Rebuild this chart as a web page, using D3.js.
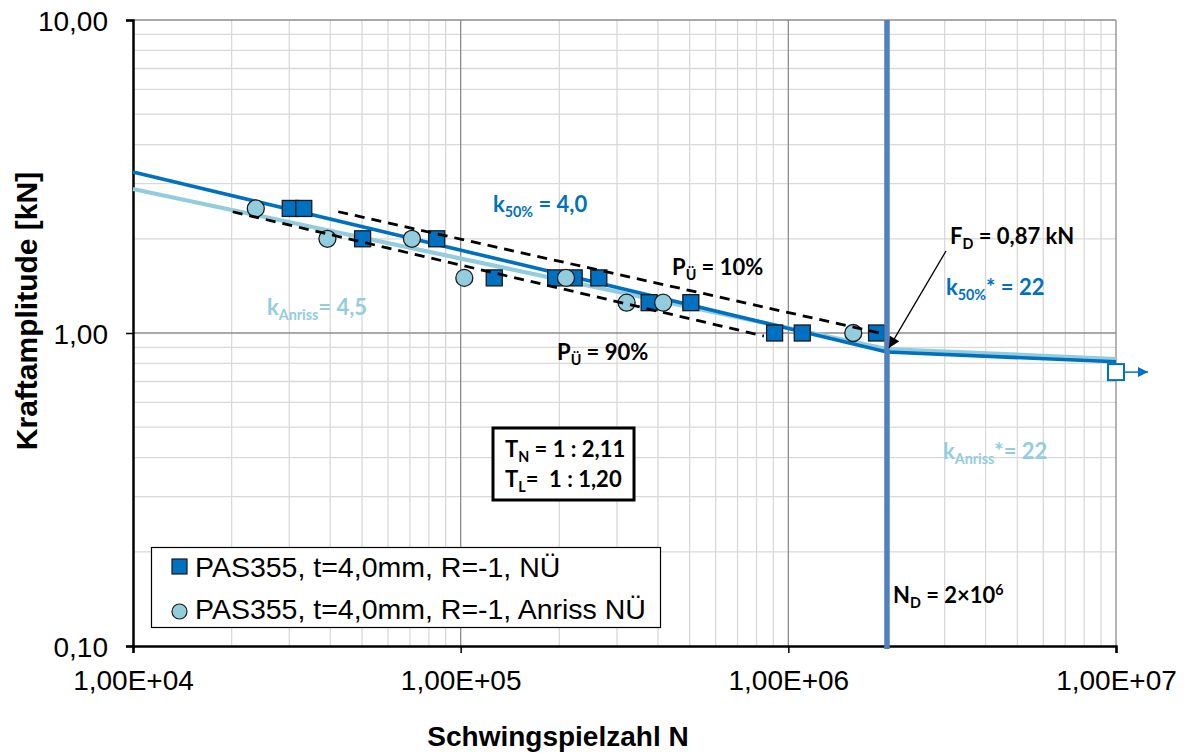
<!DOCTYPE html>
<html>
<head>
<meta charset="utf-8">
<script src="https://cdn.jsdelivr.net/npm/d3@7"></script>
<style>
  html, body { margin: 0; padding: 0; background: #fff; }
  svg { display: block; }
  text { white-space: pre; }
</style>
</head>
<body>
<svg id="chart" width="1184" height="753"></svg>
<script>
// Wöhler diagram (S-N curve) for PAS355, t = 4,0 mm, R = -1

// Test results: fracture (NÜ)
const fractureCycles = [30200, 33200, 50200, 84500, 126600, 195000, 222000, 264000, 376000, 504000, 908000, 1103000, 1859000];
const fractureForce  = [2.5, 2.5, 2.0, 2.0, 1.5, 1.5, 1.5, 1.5, 1.25, 1.25, 1.0, 1.0, 1.0];

// Test results: crack initiation (Anriss NÜ)
const crackCycles = [23700, 39200, 71000, 102600, 209600, 321000, 415000, 1578000];
const crackForce  = [2.5, 2.0, 2.0, 1.5, 1.5, 1.25, 1.25, 1.0];

// Run-out
const runoutCycles = [1e7];
const runoutForce  = [0.75];

// Fitted curves (50 % and crack initiation), knee at N_D
const curve50Cycles = [1e4, 2e6, 1e7];
const curve50Force  = [3.27, 0.87, 0.809];
const curveCrackCycles = [1e4, 2e6, 1e7];
const curveCrackForce  = [2.885, 0.889, 0.826];

// Scatter band limits
const band10Cycles = [42300, 1900000];
const band10Force  = [2.44, 1.0];
const band90Cycles = [20150, 842000];
const band90Force  = [2.44, 0.978];

// Knee point
const kneeCycles = 2e6;
const kneeForce = 0.87;

// Axis ticks
const xTicks = [1e4, 1e5, 1e6, 1e7];
const xTickLabels = ["1,00E+04", "1,00E+05", "1,00E+06", "1,00E+07"];
const yTicks = [0.1, 1, 10];
const yTickLabels = ["0,10", "1,00", "10,00"];

const legendLabels = ["PAS355, t=4,0mm, R=-1, NÜ", "PAS355, t=4,0mm, R=-1, Anriss NÜ"];

const DARK = "#0070C0", LIGHT = "#93CDDD", KNEE = "#4F81BD";

const svg = d3.select("#chart");
const plotLeft = 133, plotRight = 1116, plotTop = 20, plotBottom = 646;

const x = d3.scaleLog().domain([1e4, 1e7]).range([plotLeft, plotRight]);
const y = d3.scaleLog().domain([0.1, 10]).range([plotBottom, plotTop]);

// Grid
const minorX = [], minorY = [];
[1e4, 1e5, 1e6].forEach(d => { for (let m = 2; m <= 9; m++) minorX.push(d * m); });
[0.1, 1].forEach(d => { for (let m = 2; m <= 9; m++) minorY.push(d * m); });
const grid = svg.append("g");
grid.selectAll(".gx").data(minorX).join("line")
  .attr("x1", d => x(d)).attr("x2", d => x(d)).attr("y1", plotTop).attr("y2", plotBottom)
  .attr("stroke", "#D9D9D9").attr("stroke-width", 1.3);
grid.selectAll(".gy").data(minorY).join("line")
  .attr("y1", d => y(d)).attr("y2", d => y(d)).attr("x1", plotLeft).attr("x2", plotRight)
  .attr("stroke", "#D9D9D9").attr("stroke-width", 1.3);
grid.selectAll(".Gx").data([1e5, 1e6, 1e7]).join("line")
  .attr("x1", d => x(d)).attr("x2", d => x(d)).attr("y1", plotTop).attr("y2", plotBottom)
  .attr("stroke", "#8C8C8C").attr("stroke-width", 1.3);
grid.selectAll(".Gy").data([1, 10]).join("line")
  .attr("y1", d => y(d)).attr("y2", d => y(d)).attr("x1", plotLeft).attr("x2", plotRight)
  .attr("stroke", "#8C8C8C").attr("stroke-width", 1.3);

// Axes
const xAxis = svg.append("g").attr("transform", `translate(0,${plotBottom})`)
  .call(d3.axisBottom(x).tickValues(xTicks).tickSize(7).tickPadding(10)
    .tickFormat((d, i) => xTickLabels[i]));
const yAxis = svg.append("g").attr("transform", `translate(${plotLeft},0)`)
  .call(d3.axisLeft(y).tickValues(yTicks).tickSize(7).tickPadding(18)
    .tickFormat((d, i) => yTickLabels[i]));
[xAxis, yAxis].forEach(a => {
  a.select(".domain").attr("stroke", "#000").attr("stroke-width", 2.5);
  a.selectAll(".tick line").attr("stroke", "#000").attr("stroke-width", 1.5);
  a.selectAll(".tick text").attr("font-family", "Liberation Sans, Arial, sans-serif")
    .attr("font-size", 28).attr("fill", "#000");
});
xAxis.selectAll(".tick text").attr("dy", "0.95em");
yAxis.selectAll(".tick text").attr("dy", "0.36em");

// Axis titles
svg.append("text").attr("x", 558).attr("y", 746).attr("text-anchor", "middle")
  .attr("font-family", "Liberation Sans, Arial, sans-serif").attr("font-weight", "bold")
  .attr("font-size", 28).text("Schwingspielzahl N");
svg.append("text").attr("transform", "translate(37,311) rotate(-90)").attr("text-anchor", "middle")
  .attr("font-family", "Liberation Sans, Arial, sans-serif").attr("font-weight", "bold")
  .attr("font-size", 30).text("Kraftamplitude [kN]");

// Fitted curves
const line = d3.line().x(d => x(d[0])).y(d => y(d[1]));
svg.append("path").datum(d3.zip(curveCrackCycles, curveCrackForce)).attr("d", line)
  .attr("fill", "none").attr("stroke", LIGHT).attr("stroke-width", 4.2);
svg.append("path").datum(d3.zip(curve50Cycles, curve50Force)).attr("d", line)
  .attr("fill", "none").attr("stroke", DARK).attr("stroke-width", 3.6);

// Markers
const sq = 16;
svg.append("g").selectAll("rect").data(d3.zip(fractureCycles, fractureForce)).join("rect")
  .attr("x", d => x(d[0]) - sq / 2).attr("y", d => y(d[1]) - sq / 2)
  .attr("width", sq).attr("height", sq)
  .attr("fill", DARK).attr("stroke", "#1a1a1a").attr("stroke-width", 1.3);
svg.append("g").selectAll("circle").data(d3.zip(crackCycles, crackForce)).join("circle")
  .attr("cx", d => x(d[0])).attr("cy", d => y(d[1])).attr("r", 8.5)
  .attr("fill", LIGHT).attr("stroke", "#1a1a1a").attr("stroke-width", 1.3);

// Run-out with arrow
const defs = svg.append("defs");
defs.append("marker").attr("id", "headBlue").attr("viewBox", "0 0 10 10")
  .attr("refX", 10).attr("refY", 5).attr("markerWidth", 10).attr("markerHeight", 10)
  .attr("markerUnits", "userSpaceOnUse").attr("orient", "auto")
  .append("path").attr("d", "M0,0 L10,5 L0,10 Z").attr("fill", DARK);
defs.append("marker").attr("id", "headBlack").attr("viewBox", "0 0 10 10")
  .attr("refX", 10).attr("refY", 5).attr("markerWidth", 13).attr("markerHeight", 11)
  .attr("markerUnits", "userSpaceOnUse").attr("orient", "auto")
  .append("path").attr("d", "M0,0 L10,5 L0,10 Z").attr("fill", "#000");
const runout = svg.append("g").selectAll("g").data(d3.zip(runoutCycles, runoutForce)).join("g");
runout.append("rect")
  .attr("x", d => x(d[0]) - 8).attr("y", d => y(d[1]) - 8).attr("width", 16).attr("height", 16)
  .attr("fill", "#fff").attr("stroke", DARK).attr("stroke-width", 2);
runout.append("line")
  .attr("x1", d => x(d[0]) + 9).attr("x2", d => x(d[0]) + 32)
  .attr("y1", d => y(d[1])).attr("y2", d => y(d[1]))
  .attr("stroke", DARK).attr("stroke-width", 1.5).attr("marker-end", "url(#headBlue)");

// Scatter bands
[[band10Cycles, band10Force], [band90Cycles, band90Force]].forEach(([c, f]) => {
  svg.append("path").datum(d3.zip(c, f)).attr("d", line)
    .attr("fill", "none").attr("stroke", "#000").attr("stroke-width", 2.8)
    .attr("stroke-dasharray", "10,7");
});

// Knee line N_D
svg.append("line").attr("x1", x(kneeCycles)).attr("x2", x(kneeCycles))
  .attr("y1", plotTop).attr("y2", plotBottom + 3)
  .attr("stroke", KNEE).attr("stroke-width", 5.5);

// Annotations
const FONT = "Lato, 'Open Sans', sans-serif";
function label(px, py, parts, color, size) {
  const t = svg.append("text").attr("x", px).attr("y", py)
    .attr("font-family", FONT).attr("font-weight", 700).attr("font-size", size).attr("fill", color);
  let shift = 0;
  parts.forEach(p => {
    const s = t.append("tspan").text(p.t);
    let target = 0;
    if (p.sub) { s.attr("font-size", size * 0.65); target = size * 0.22; }
    if (p.sup) { s.attr("font-size", size * 0.65); target = -size * 0.38; }
    if (target !== shift) { s.attr("dy", target - shift); shift = target; }
  });
  return t;
}
label(493, 212, [{t: "k"}, {t: "50%", sub: true}, {t: " = 4,0"}], DARK, 22);
label(267, 315, [{t: "k"}, {t: "Anriss", sub: true}, {t: "= 4,5"}], LIGHT, 22);
label(672, 275, [{t: "P"}, {t: "Ü", sub: true}, {t: " = 10%"}], "#000", 22);
label(557, 360, [{t: "P"}, {t: "Ü", sub: true}, {t: " = 90%"}], "#000", 22);
label(950, 244, [{t: "F"}, {t: "D", sub: true}, {t: " = 0,87 kN"}], "#000", 22);
label(946, 295, [{t: "k"}, {t: "50%", sub: true}, {t: "* = 22"}], DARK, 22);
label(943, 459, [{t: "k"}, {t: "Anriss", sub: true}, {t: "*= 22"}], LIGHT, 22);
label(893, 603, [{t: "N"}, {t: "D", sub: true}, {t: " = 2×10"}, {t: "6", sup: true}], "#000", 22);

// Arrow to knee point
svg.append("line").attr("x1", 946).attr("y1", 251)
  .attr("x2", x(kneeCycles) + 2).attr("y2", y(kneeForce) - 4)
  .attr("stroke", "#000").attr("stroke-width", 1.3).attr("marker-end", "url(#headBlack)");

// Scatter ratio box
svg.append("rect").attr("x", 493).attr("y", 428).attr("width", 141).attr("height", 72)
  .attr("fill", "#fff").attr("stroke", "#000").attr("stroke-width", 3);
label(505, 457, [{t: "T"}, {t: "N", sub: true}, {t: " = 1 : 2,11"}], "#000", 22);
label(505, 487, [{t: "T"}, {t: "L", sub: true}, {t: "=  1 : 1,20"}], "#000", 22);

// Legend
const lg = svg.append("g");
lg.append("rect").attr("x", 151.5).attr("y", 547.5).attr("width", 509).attr("height", 80)
  .attr("fill", "#fff").attr("stroke", "#000").attr("stroke-width", 1.2);
lg.append("rect").attr("x", 172).attr("y", 559).attr("width", 15).attr("height", 15)
  .attr("fill", DARK).attr("stroke", "#1a1a1a").attr("stroke-width", 1.2);
lg.append("circle").attr("cx", 179.5).attr("cy", 611.5).attr("r", 7.5)
  .attr("fill", LIGHT).attr("stroke", "#1a1a1a").attr("stroke-width", 1.2);
lg.selectAll("text").data(legendLabels).join("text")
  .attr("x", 195).attr("y", (d, i) => 577 + i * 42)
  .attr("font-family", "Liberation Sans, Arial, sans-serif").attr("font-size", 28.5)
  .text(d => d);
</script>
</body>
</html>
